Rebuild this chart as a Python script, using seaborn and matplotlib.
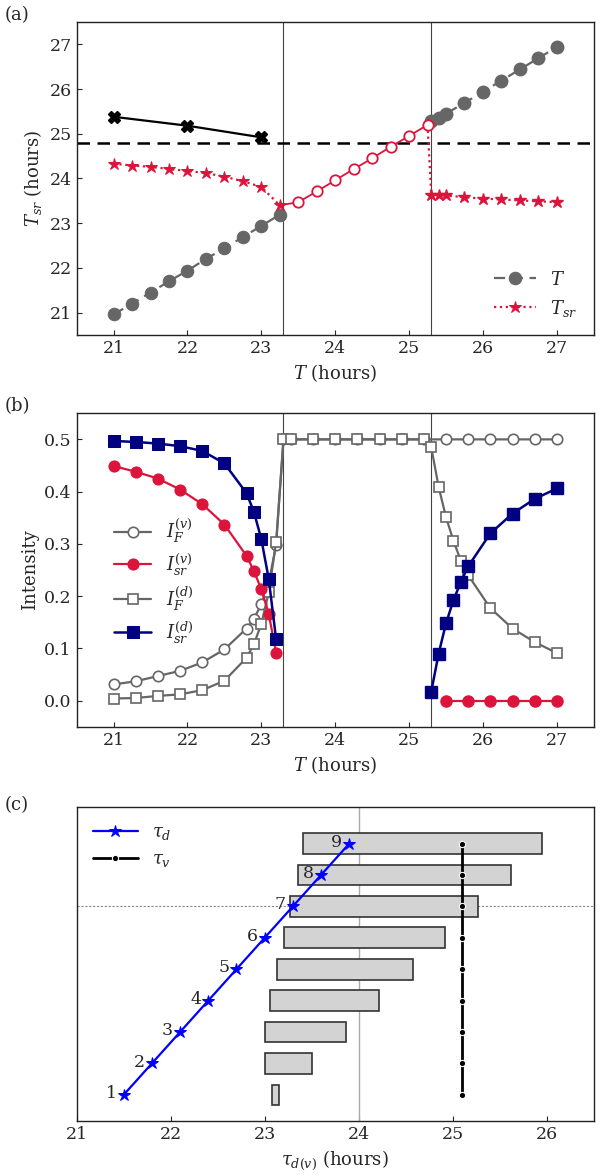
import numpy as np
import matplotlib
matplotlib.use("Agg")
import matplotlib.pyplot as plt
import seaborn as sns

# -------------------------
# Data
# -------------------------
# panel (a)
T_left = [21.0, 21.25, 21.5, 21.75, 22.0, 22.25, 22.5, 22.75, 23.0, 23.25]
Tsr_left = [24.33, 24.29, 24.26, 24.21, 24.17, 24.12, 24.04, 23.94, 23.81, 23.40]
T_mid = [23.5, 23.75, 24.0, 24.25, 24.5, 24.75, 25.0, 25.25]
Tsr_mid = [23.47, 23.71, 23.96, 24.21, 24.45, 24.71, 24.95, 25.2]
T_right = [25.3, 25.4, 25.5, 25.75, 26.0, 26.25, 26.5, 26.75, 27.0]
Tsr_right = [23.64, 23.64, 23.62, 23.58, 23.55, 23.53, 23.51, 23.49, 23.47]
# identity line T (grey), visible outside the locked range
T_diag_left = [20.96, 21.2, 21.45, 21.7, 21.94, 22.2, 22.44, 22.69, 22.94, 23.19]
T_diag_right = [25.29, 25.36, 25.45, 25.69, 25.94, 26.19, 26.44, 26.69, 26.94]
T_x = [21.0, 22.0, 23.0]
Tsr_x = [25.38, 25.18, 24.92]
T_ref = 24.8
T_bounds = [23.3, 25.3]

# panel (b)
Tb_left = [21.0, 21.3, 21.6, 21.9, 22.2, 22.5, 22.8, 22.9, 23.0, 23.1, 23.2]
IFv_left = [0.031, 0.037, 0.047, 0.057, 0.073, 0.098, 0.138, 0.157, 0.184, 0.225, 0.298]
Isrv_left = [0.449, 0.438, 0.425, 0.404, 0.376, 0.337, 0.277, 0.248, 0.213, 0.166, 0.092]
IFd_left = [0.004, 0.005, 0.009, 0.012, 0.020, 0.038, 0.082, 0.108, 0.147, 0.207, 0.303]
Isrd_left = [0.497, 0.495, 0.492, 0.487, 0.478, 0.454, 0.397, 0.361, 0.309, 0.233, 0.118]
Tb_mid = [23.3, 23.4, 23.7, 24.0, 24.3, 24.6, 24.9, 25.2]
IF_mid = [0.5, 0.5, 0.5, 0.5, 0.5, 0.5, 0.5, 0.5]
Tb_right_v = [25.5, 25.8, 26.1, 26.4, 26.7, 27.0]
IFv_right = [0.5, 0.5, 0.5, 0.5, 0.5, 0.5]
Isrv_right = [0.0, 0.0, 0.0, 0.0, 0.0, 0.0]
Tb_right_d = [25.3, 25.4, 25.5, 25.6, 25.7, 25.8, 26.1, 26.4, 26.7, 27.0]
IFd_right = [0.485, 0.409, 0.351, 0.306, 0.268, 0.240, 0.177, 0.138, 0.112, 0.091]
Isrd_right = [0.017, 0.090, 0.148, 0.192, 0.227, 0.257, 0.320, 0.358, 0.386, 0.406]

# panel (c)
n_idx = [1, 2, 3, 4, 5, 6, 7, 8, 9]
tau_d = [21.5, 21.8, 22.1, 22.4, 22.7, 23.0, 23.3, 23.6, 23.9]
tau_v = [25.1, 25.1, 25.1, 25.1, 25.1, 25.1, 25.1, 25.1, 25.1]
bar_lo = [23.08, 23.0, 23.0, 23.06, 23.13, 23.21, 23.27, 23.35, 23.41]
bar_hi = [23.15, 23.5, 23.86, 24.22, 24.58, 24.92, 25.27, 25.62, 25.95]

# -------------------------
# Style
# -------------------------
sns.set_style("ticks")
plt.rcParams["font.family"] = ["DejaVu Serif"]
plt.rcParams["mathtext.fontset"] = "dejavuserif"
plt.rcParams["font.size"] = 12.5
plt.rcParams["xtick.direction"] = "in"
plt.rcParams["ytick.direction"] = "in"
plt.rcParams["axes.edgecolor"] = "#222222"
plt.rcParams["axes.linewidth"] = 1.0

GREY = "#666666"
RED = "#dc143c"
NAVY = "#000080"

fig = plt.figure(figsize=(6.01, 11.75), dpi=100)
ax_a = fig.add_axes([0.1275, 0.7149, 0.8605, 0.2664])
ax_b = fig.add_axes([0.1275, 0.3815, 0.8605, 0.2668])
ax_c = fig.add_axes([0.1275, 0.0460, 0.8605, 0.2674])

# -------------------------
# Panel (a)
# -------------------------
for xb in T_bounds:
    ax_a.axvline(xb, color="#444444", lw=0.8, zorder=1)
ax_a.axhline(T_ref, color="black", lw=1.8, ls=(0, (5, 3)), zorder=2)

sns.lineplot(x=T_left, y=T_diag_left, ax=ax_a, color=GREY, lw=1.6, ls=(0, (5, 3)),
             marker="o", markersize=9, markeredgecolor=GREY, sort=False,
             estimator=None, label="$T$", zorder=3)
ax_a.plot(T_right, T_diag_right, color=GREY, lw=1.6, ls=(0, (5, 3)),
          marker="o", markersize=9, markeredgecolor=GREY, zorder=3)
sns.lineplot(x=T_left, y=Tsr_left, ax=ax_a, color=RED, lw=1.6, ls=":",
             marker="*", markersize=9, markeredgecolor=RED, sort=False,
             estimator=None, label="$T_{sr}$", zorder=4)
ax_a.plot([T_left[-1]] + T_mid, [Tsr_left[-1]] + Tsr_mid, color=RED, lw=1.3,
          marker="o", markersize=7.5, markerfacecolor="white",
          markeredgecolor=RED, markeredgewidth=1.3,
          markevery=list(range(1, len(T_mid) + 1)), zorder=5)
ax_a.plot([T_mid[-1]] + T_right, [Tsr_mid[-1]] + Tsr_right, color=RED, lw=1.6,
          ls=":", marker="*", markersize=9, markeredgecolor=RED,
          markevery=list(range(1, len(T_right) + 1)), zorder=4)
ax_a.plot(T_x, Tsr_x, color="black", lw=1.6, marker="X", markersize=9, zorder=5)

ax_a.set_xlim(20.5, 27.5)
ax_a.set_ylim(20.5, 27.5)
ax_a.set_xticks([21, 22, 23, 24, 25, 26, 27])
ax_a.set_yticks([21, 22, 23, 24, 25, 26, 27])
ax_a.set_xlabel("$T$ (hours)", fontsize=13, labelpad=4)
ax_a.set_ylabel("$T_{sr}$ (hours)", fontsize=13)
ax_a.legend(loc="lower right", frameon=False, fontsize=13, handlelength=2.3)

# -------------------------
# Panel (b)
# -------------------------
for xb in T_bounds:
    ax_b.axvline(xb, color="#444444", lw=0.8, zorder=1)

ax_b.plot(Tb_left + Tb_mid + Tb_right_v, IFv_left + IF_mid + IFv_right,
          color=GREY, lw=1.6, marker="o", markersize=7.5, markerfacecolor="white",
          markeredgecolor=GREY, markeredgewidth=1.2, label="$I_F^{(v)}$", zorder=3)
sns.lineplot(x=Tb_left, y=Isrv_left, ax=ax_b, color=RED, lw=1.6, marker="o",
             markersize=8, markeredgecolor=RED, sort=False, estimator=None,
             label="$I_{sr}^{(v)}$", zorder=4)
ax_b.plot(Tb_left + Tb_mid + Tb_right_d, IFd_left + IF_mid + IFd_right,
          color=GREY, lw=1.6, marker="s", markersize=7.5, markerfacecolor="white",
          markeredgecolor=GREY, markeredgewidth=1.2, label="$I_F^{(d)}$", zorder=3)
sns.lineplot(x=Tb_left, y=Isrd_left, ax=ax_b, color=NAVY, lw=1.8, marker="s",
             markersize=8, markeredgecolor=NAVY, sort=False, estimator=None,
             label="$I_{sr}^{(d)}$", zorder=5)
ax_b.plot(Tb_right_v, Isrv_right, color=RED, lw=1.6, marker="o", markersize=8,
          markeredgecolor=RED, zorder=4)
ax_b.plot(Tb_right_d, Isrd_right, color=NAVY, lw=1.8, marker="s", markersize=8,
          markeredgecolor=NAVY, zorder=5)

ax_b.set_xlim(20.5, 27.5)
ax_b.set_ylim(-0.05, 0.55)
ax_b.set_xticks([21, 22, 23, 24, 25, 26, 27])
ax_b.set_yticks([0.0, 0.1, 0.2, 0.3, 0.4, 0.5])
ax_b.set_xlabel("$T$ (hours)", fontsize=13, labelpad=4)
ax_b.set_ylabel("Intensity", fontsize=13)
ax_b.legend(loc="center left", bbox_to_anchor=(0.04, 0.465), frameon=False,
            fontsize=13, handlelength=2.1, labelspacing=0.35)

# -------------------------
# Panel (c)
# -------------------------
ax_c.axvline(24.0, color="#aaaaaa", lw=1.0, zorder=1)
ax_c.axhline(7, color="#888888", lw=0.8, ls=(0, (2, 1.5)), zorder=1)
widths = [hi - lo for lo, hi in zip(bar_lo, bar_hi)]
ax_c.barh(n_idx, widths, left=bar_lo, height=0.66, color="#d3d3d3",
          edgecolor="#333333", linewidth=1.2, zorder=2)
sns.lineplot(x=tau_d, y=n_idx, ax=ax_c, color="blue", lw=1.6, marker="*",
             markersize=9, markeredgecolor="blue", sort=False, estimator=None,
             label=r"$\tau_d$", zorder=4)
sns.lineplot(x=tau_v, y=n_idx, ax=ax_c, color="black", lw=2.0, marker="o",
             markersize=4.5, sort=False, estimator=None,
             label=r"$\tau_v$", zorder=4)
for n, td in zip(n_idx, tau_d):
    ax_c.annotate(str(n), (td, n), xytext=(-5, 1), textcoords="offset points",
                  ha="right", va="center", fontsize=12.5)

ax_c.set_xlim(21, 26.5)
ax_c.set_ylim(0.17, 10.17)
ax_c.set_xticks([21, 22, 23, 24, 25, 26])
ax_c.set_yticks([])
ax_c.set_xlabel(r"$\tau_{d(v)}$ (hours)", fontsize=13, labelpad=4)
ax_c.legend(loc="upper left", frameon=False, fontsize=13, handlelength=2.5,
            labelspacing=0.45)

# panel labels
fig.text(0.008, 0.987, "(a)", fontsize=13, va="center")
fig.text(0.008, 0.654, "(b)", fontsize=13, va="center")
fig.text(0.008, 0.315, "(c)", fontsize=13, va="center")

fig.savefig("out.png", dpi=100)
